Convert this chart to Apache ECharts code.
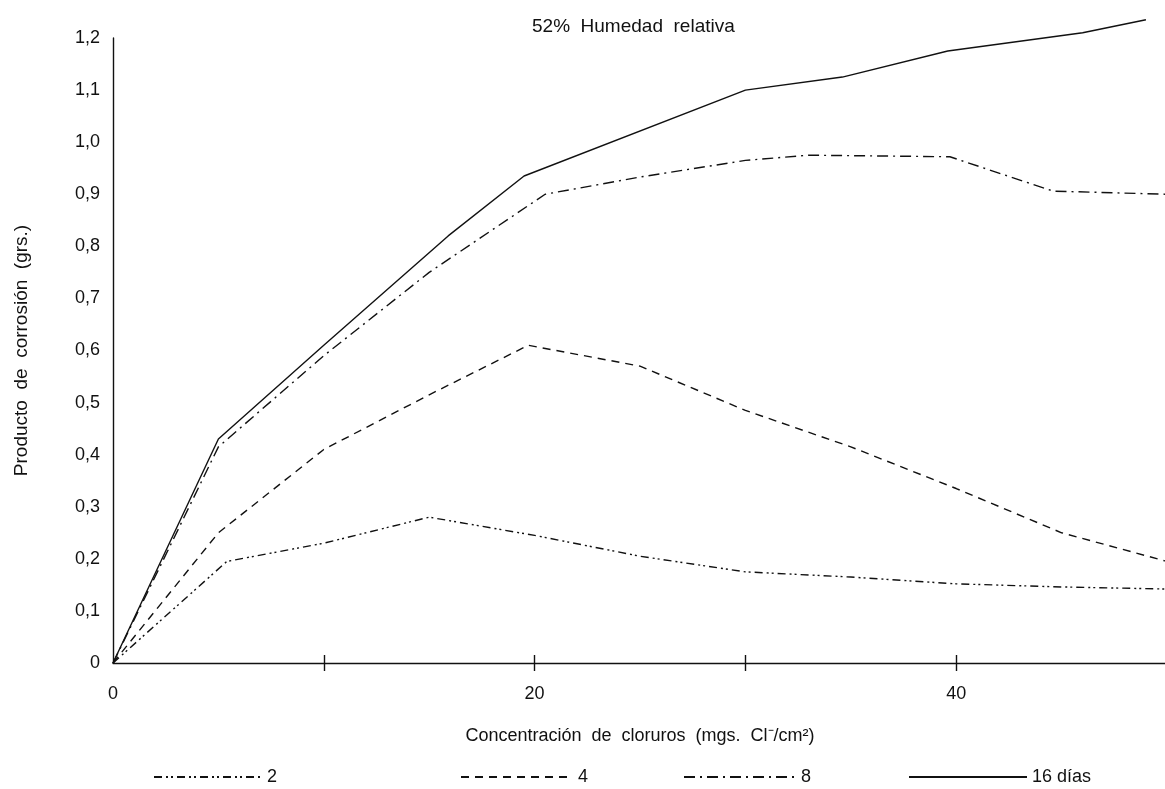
<!DOCTYPE html>
<html>
<head>
<meta charset="utf-8">
<script src="https://cdn.jsdelivr.net/npm/echarts@6/dist/echarts.min.js"></script>
<style>
html,body{margin:0;padding:0;background:#fff;}
#c{width:1165px;height:789px;}
</style>
</head>
<body>
<div id="c"></div>
<script>
// Data
const xTickLabels = {0:'0', 20:'20', 40:'40'};
const yTickLabels = ['0','0,1','0,2','0,3','0,4','0,5','0,6','0,7','0,8','0,9','1,0','1,1','1,2'];

const x2 = [0, 5.4, 10, 15, 20, 25, 30, 35, 40, 45, 50];
const y2 = [0, 0.195, 0.23, 0.28, 0.245, 0.205, 0.175, 0.165, 0.152, 0.146, 0.142];

const x4 = [0, 5, 10, 15, 19.7, 25, 30, 35, 40, 45, 50];
const y4 = [0, 0.25, 0.41, 0.515, 0.61, 0.57, 0.485, 0.415, 0.335, 0.25, 0.195];

const x8 = [0, 5, 10, 15, 20.5, 25, 30, 33, 39.7, 44.6, 50];
const y8 = [0, 0.415, 0.59, 0.75, 0.90, 0.933, 0.965, 0.975, 0.972, 0.906, 0.9];

const x16 = [0, 5, 10, 15.9, 19.5, 30, 34.6, 39.6, 46, 49];
const y16 = [0, 0.43, 0.61, 0.82, 0.935, 1.10, 1.125, 1.175, 1.21, 1.235];

const names = ['2', '4', '8', '16 días'];

function pairs(xs, ys){ return xs.map((x,i)=>[x, ys[i]]); }

const ink = '#111';
const font = 'Liberation Sans, Arial, sans-serif';

const chart = echarts.init(document.getElementById('c'), null, {renderer:'canvas'});

function lineSeries(name, xs, ys, dash){
  return {
    name: name, type: 'line', data: pairs(xs, ys),
    symbol: 'none', smooth: false, clip: false,
    lineStyle: {color: ink, width: 1.4, type: dash},
    itemStyle: {color: ink},
    animation: false
  };
}

function legendAt(name, left, w){
  return {
    data: [name], left: left, top: 763, itemWidth: w, itemHeight: 10,
    itemStyle: {opacity: 0},
    textStyle: {fontFamily: font, fontSize: 18, color: ink},
    selectedMode: false
  };
}

const option = {
  backgroundColor: '#fff',
  animation: false,
  title: {
    text: '52%  Humedad  relativa', left: 527, top: 12,
    textStyle: {fontFamily: font, fontSize: 19, fontWeight: 'normal', color: ink}
  },
  legend: [
    legendAt(names[0], 148, 108),
    legendAt(names[1], 455, 112),
    legendAt(names[2], 678, 112),
    legendAt(names[3], 903, 118)
  ],
  grid: {left: 113, width: 1054, top: 38, bottom: 126, containLabel: false, outerBoundsMode: 'none'},
  xAxis: [{
    type: 'value', min: 0, max: 50, interval: 10,
    name: 'Concentración  de  cloruros  (mgs.  Cl⁻/cm²)',
    nameLocation: 'middle', nameGap: 64,
    nameTextStyle: {fontFamily: font, fontSize: 18, color: ink},
    axisLine: {show: true, lineStyle: {color: ink, width: 1.4}},
    axisTick: {show: true, length: 8, lineStyle: {color: ink, width: 1.4},
      customValues: [10,20,30,40]},
    axisLabel: {margin: 22, fontFamily: font, fontSize: 18, color: ink,
      formatter: v => (xTickLabels[v] !== undefined ? xTickLabels[v] : '')},
    splitLine: {show: false}
  },{
    type: 'value', min: 0, max: 50, interval: 10, position: 'bottom',
    axisLine: {show: false},
    axisTick: {show: true, inside: true, length: 8, lineStyle: {color: ink, width: 1.4},
      customValues: [10,20,30,40]},
    axisLabel: {show: false},
    splitLine: {show: false}
  }],
  yAxis: {
    type: 'value', min: 0, max: 1.2, interval: 0.1,
    name: 'Producto  de  corrosión  (grs.)',
    nameLocation: 'middle', nameGap: 82,
    nameTextStyle: {fontFamily: font, fontSize: 19, color: ink},
    axisLine: {show: true, lineStyle: {color: ink, width: 1.4}},
    axisTick: {show: false},
    axisLabel: {margin: 13, fontFamily: font, fontSize: 18, color: ink,
      formatter: (v) => yTickLabels[Math.round(v*10)]},
    splitLine: {show: false}
  },
  series: [
    lineSeries(names[0], x2, y2, [8,4,2,3,2,4]),
    lineSeries(names[1], x4, y4, [8,6]),
    lineSeries(names[2], x8, y8, [11,5,2,5]),
    lineSeries(names[3], x16, y16, 'solid')
  ]
};
chart.setOption(option);
</script>
</body>
</html>
